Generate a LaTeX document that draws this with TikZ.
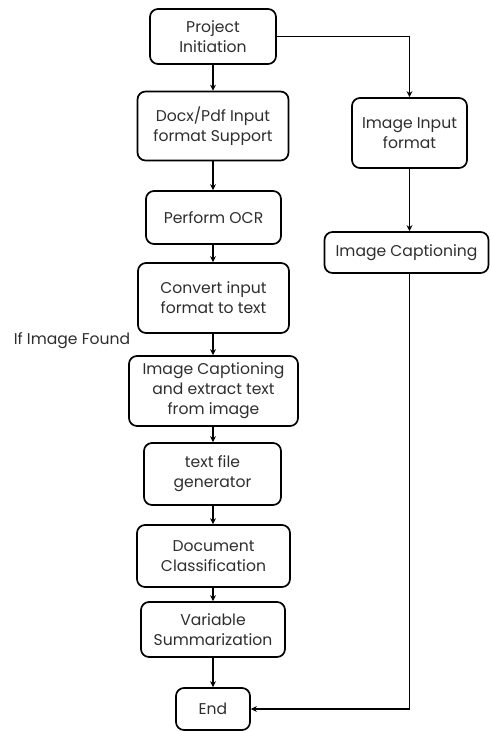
\documentclass[tikz,border=0pt]{standalone}
\usepackage{fontspec}
\setmainfont{Poppins}
\usetikzlibrary{arrows.meta}
\definecolor{txt}{HTML}{2E2E2E}
\begin{document}
\begin{tikzpicture}[x=1bp,y=-1bp,
  box/.style={draw=black,line width=1.7bp,rounded corners=8bp,align=center,
    text=txt,font=\fontsize{15.6bp}{20bp}\selectfont,inner sep=0pt},
  arr/.style={line width=1.7bp,-{Stealth[length=6bp,width=6bp]}}]
\useasboundingbox (0,0) rectangle (490,731);
\node[box,minimum width=126bp,minimum height=55bp] (pi) at (213,36.5) {Project\\Initiation};
\node[box,minimum width=151bp,minimum height=69bp] (docx) at (213,126) {Docx/Pdf Input\\format Support};
\node[box,minimum width=135bp,minimum height=53bp] (ocr) at (213.5,217.5) {Perform OCR};
\node[box,minimum width=151bp,minimum height=70bp] (conv) at (213.5,298) {Convert input\\format to text};
\node[box,minimum width=169bp,minimum height=70bp] (icx) at (213.5,391) {Image Captioning\\and extract text\\from image};
\node[box,minimum width=137bp,minimum height=62bp] (tfg) at (212.5,474) {text file\\generator};
\node[box,minimum width=153bp,minimum height=62bp] (dc) at (213.5,556) {Document\\Classification};
\node[box,minimum width=144bp,minimum height=55bp] (vs) at (213,629.5) {Variable\\Summarization};
\node[box,minimum width=74bp,minimum height=42bp] (end) at (213,709) {End};
\node[box,minimum width=115bp,minimum height=70bp] (iif) at (409.5,133) {Image Input\\format};
\node[box,minimum width=164bp,minimum height=41bp] (ic) at (406.5,252.5) {Image Captioning};
\node[text=txt,font=\fontsize{15.6bp}{20bp}\selectfont,inner sep=0pt] (lbl) at (72,341) {If Image Found};
\draw[arr] (pi.south) -- (docx.north);
\draw[arr] (docx.south) -- (ocr.north -| docx.south);
\draw[arr] (ocr.south -| docx.south) -- (conv.north -| docx.south);
\draw[arr] (conv.south -| docx.south) -- (icx.north -| docx.south);
\draw[arr] (icx.south -| docx.south) -- (tfg.north -| docx.south);
\draw[arr] (tfg.south -| docx.south) -- (dc.north -| docx.south);
\draw[arr] (dc.south -| docx.south) -- (vs.north -| docx.south);
\draw[arr] (vs.south -| docx.south) -- (end.north);
\draw[arr] (pi.east) -| (iif.north);
\draw[arr] (iif.south) -- (ic.north -| iif.south);
\draw[arr] (ic.south -| iif.south) |- (end.east);
\end{tikzpicture}
\end{document}
